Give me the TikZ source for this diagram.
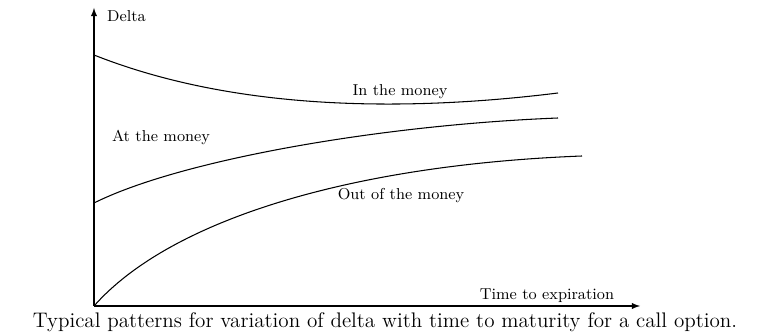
\documentclass[tikz,border=0pt]{standalone}
\usepackage{tikz}
\usetikzlibrary{shapes,arrows}

\begin{document}
\begin{tikzpicture}[x=0.02cm, y=-0.02cm]
		\useasboundingbox (0,0) rectangle (769,334);
		
		\coordinate (o) at (94,306);
		\coordinate (ytop) at (94,8);
		\coordinate (xend) at (640,306);
		
		\draw[-latex, semithick] (o) -- (ytop);
		\draw[-latex, semithick] (o) -- (xend);
		
		\node (delta)[anchor = west, font = \small] at (101,16) {Delta};
		\node (time)[font = \small] at (547,296) {Time to expiration};
		
		\coordinate (itm0) at (94,55);
		\coordinate (itm1) at (558,93);
		\coordinate (atm0) at (94,203);
		\coordinate (atm1) at (558,118);
		\coordinate (otm1) at (582,156);
		
		\draw[semithick] (itm0) .. controls (220,105) and (380,115) .. (itm1);
		\draw[semithick] (atm0) .. controls (180,160) and (380,125) .. (atm1);
		\draw[semithick] (o) .. controls (170,220) and (350,165) .. (otm1);
		
		\node (itm)[font = \small] at (400,92) {In the money};
		\node (atm)[font = \small] at (161,137) {At the money};
		\node (otm)[font = \small] at (401,196) {Out of the money};
		
		\node (cap)[font = \large] at (385,322) {Typical patterns for variation of delta with time to maturity for a call option.};
	\end{tikzpicture}
\end{document}
